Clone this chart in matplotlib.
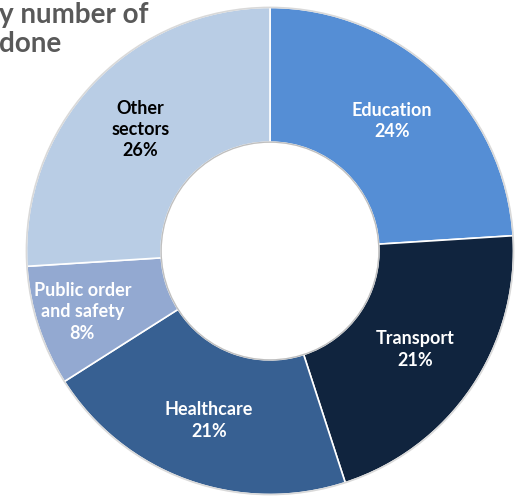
import matplotlib
matplotlib.use('Agg')
import matplotlib.pyplot as plt
import matplotlib.patches as patches
import numpy as np

# dados do gráfico
setores = ['Education', 'Transport', 'Healthcare', 'Public order\nand safety', 'Other\nsectors']
percentuais = [24, 21, 21, 8, 26]
cores = ['#558ED5', '#10243E', '#376092', '#93A9D1', '#B9CDE5']
cores_texto = ['white', 'white', 'white', 'white', 'black']
titulo = 'y number of\ndone'

plt.rcParams['font.family'] = ['Lato', 'DejaVu Sans']

fig = plt.figure(figsize=(5.15, 4.96), dpi=100)
# centro do donut em (270, 251) px, raio 246 px
ax = fig.add_axes([24 / 515, -1 / 496, 492 / 515, 492 / 496])

largura = 0.553
wedges, _ = ax.pie(percentuais, colors=cores, startangle=90, counterclock=False,
                   radius=1.0,
                   wedgeprops=dict(width=largura, edgecolor='white', linewidth=1.2))
# contorno cinza leve (sombra)
ax.add_patch(patches.Circle((0, 0), 1.0, fill=False, edgecolor='#D9D9D9', linewidth=1.2, zorder=3))
ax.add_patch(patches.Circle((0, 0), 1.0 - largura, fill=False, edgecolor='#BFBFBF', linewidth=1.0, zorder=3))
ax.set_xlim(-1.01, 1.01)
ax.set_ylim(-1.01, 1.01)
ax.set_aspect('equal')
ax.axis('off')

# rótulos dentro das fatias
distancias = [0.73, 0.72, 0.74, 0.81, 0.73]
for w, nome, pct, cor, d in zip(wedges, setores, percentuais, cores_texto, distancias):
    ang = np.deg2rad((w.theta1 + w.theta2) / 2)
    ax.text(d * np.cos(ang), d * np.sin(ang), f'{nome}\n{pct}%',
            ha='center', va='center', color=cor, fontsize=13,
            fontweight='bold', linespacing=1.3, zorder=4)

fig.text(-0.002, 1 - 2 / 496, titulo, ha='left', va='top', color='#595959',
         fontsize=20, fontweight='bold', linespacing=1.15)

fig.savefig('out.png', dpi=100)
